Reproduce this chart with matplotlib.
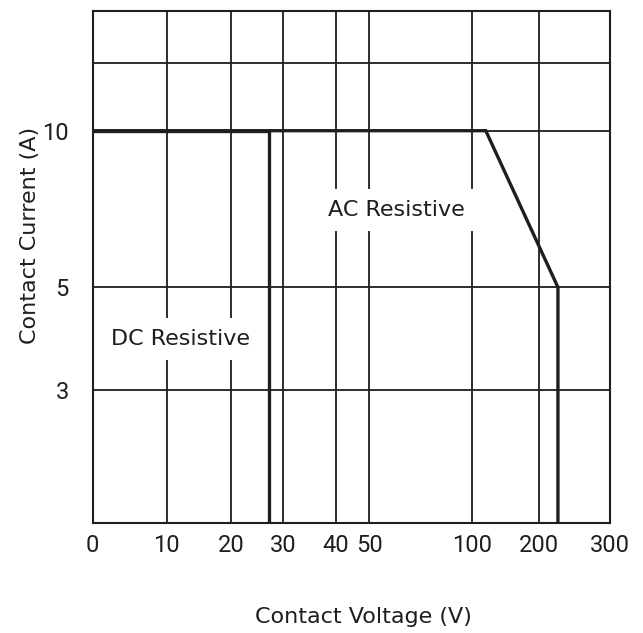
import numpy as np
import matplotlib
matplotlib.use("Agg")
import matplotlib.pyplot as plt

# ---- data ----
x_ticks = [0, 10, 20, 30, 40, 50, 100, 200, 300]
x_tick_labels = ["0", "10", "20", "30", "40", "50", "100", "200", "300"]
y_ticks = [3, 5, 10]
y_tick_labels = ["3", "5", "10"]
y_extra_grid = [15]

dc_voltage = [0, 27.3, 27.3]
dc_current = [10, 10, 1]
ac_voltage = [0, 121, 227, 227]
ac_current = [10, 10, 5, 1]

# ---- custom (datasheet) axis scales ----
x_scale_vals = np.array([0, 10, 20, 30, 40, 50, 100, 200, 300], float)
x_scale_pos = np.array([92.5, 166.7, 231, 283.3, 335.7, 369.3, 471.7, 538.7, 610])
y_scale_vals = np.array([1, 3, 5, 10, 15, 20], float)
y_scale_pos = np.array([110, 243, 345.7, 502.3, 569.7, 622])

def xf(v): return np.interp(v, x_scale_vals, x_scale_pos)
def xi(p): return np.interp(p, x_scale_pos, x_scale_vals)
def yf(v): return np.interp(v, y_scale_vals, y_scale_pos)
def yi(p): return np.interp(p, y_scale_pos, y_scale_vals)

plt.rcParams['font.family'] = ['DejaVu Sans']
col = '#1e1e1e'

fig = plt.figure(figsize=(6.43, 6.33), dpi=100)
ax = fig.add_axes([92.5/643, 1-523/633, (610-92.5)/643, (523-11)/633])
ax.set_xscale('function', functions=(xf, xi))
ax.set_yscale('function', functions=(yf, yi))
ax.set_xlim(0, 300)
ax.set_ylim(1, 20)

for v in [10, 20, 30, 40, 50, 100, 200]:
    ax.axvline(v, color=col, lw=1.3, zorder=1)
for v in y_ticks + y_extra_grid:
    ax.axhline(v, color=col, lw=1.3, zorder=1)

ax.plot(dc_voltage, dc_current, color=col, lw=2.4, solid_joinstyle='miter', zorder=3)
ax.plot(ac_voltage, ac_current, color=col, lw=2.4, solid_joinstyle='miter', zorder=3)

ax.text(63.3, 7.47, "AC Resistive", ha='center', va='center', fontsize=16, color=col,
        zorder=4, bbox=dict(facecolor='white', edgecolor='none', pad=8))
ax.text(12.15, 4.0, "DC Resistive", ha='center', va='center', fontsize=16, color=col,
        zorder=4, bbox=dict(facecolor='white', edgecolor='none', pad=8))

ax.set_xticks(x_ticks)
ax.set_xticklabels(x_tick_labels, family=['Roboto', 'DejaVu Sans'])
ax.set_yticks(y_ticks)
ax.set_yticklabels(y_tick_labels, family=['Roboto', 'DejaVu Sans'])
ax.minorticks_off()
ax.tick_params(length=0, labelsize=17, colors=col)
ax.tick_params(axis='x', pad=8)
ax.tick_params(axis='y', pad=17)

for s in ax.spines.values():
    s.set_color(col)
    s.set_linewidth(1.5)

ax.set_xlabel("Contact Voltage (V)", fontsize=16, color=col)
ax.set_ylabel("Contact Current (A)", fontsize=16, color=col)
ax.xaxis.set_label_coords(0.5237, -0.164)
ax.yaxis.set_label_coords(-0.1014, 0.5615)

fig.savefig("out.png", dpi=100)
